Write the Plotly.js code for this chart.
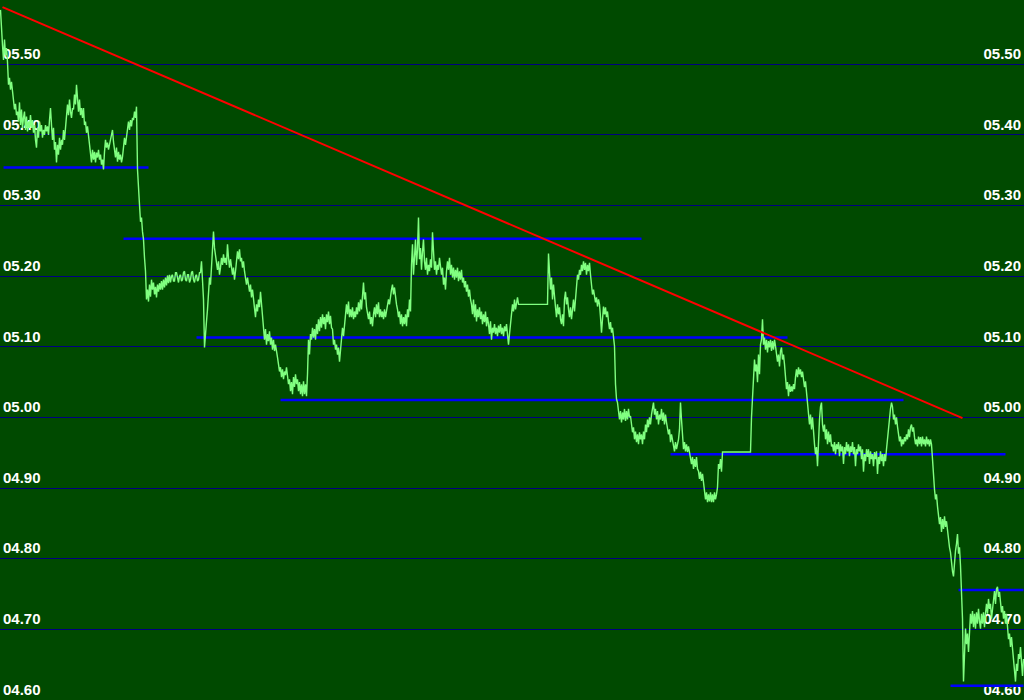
<!DOCTYPE html>
<html>
<head>
<meta charset="utf-8">
<script src="https://cdn.plot.ly/plotly-3.0.1.min.js"></script>
<style>html,body{margin:0;padding:0;background:#004a00;}#chart{width:1024px;height:700px;}</style>
</head>
<body>
<div id="chart"></div>
<script>
// price series, one value per tick (index = tick number)
const prices = [
5.577,5.544,5.527,5.506,5.535,5.513,5.523,5.503,5.471,5.481,
5.464,5.475,5.461,5.453,5.436,5.444,5.428,5.433,5.419,5.446,
5.414,5.436,5.410,5.424,5.433,5.407,5.426,5.405,5.419,5.410,
5.428,5.410,5.421,5.403,5.414,5.393,5.382,5.410,5.396,5.419,
5.405,5.414,5.396,5.407,5.400,5.414,5.405,5.412,5.400,5.421,
5.438,5.414,5.393,5.410,5.379,5.390,5.361,5.386,5.372,5.396,
5.379,5.393,5.386,5.407,5.393,5.410,5.424,5.443,5.428,5.450,
5.433,5.424,5.438,5.436,5.457,5.443,5.471,5.443,5.433,5.450,
5.428,5.438,5.424,5.438,5.414,5.419,5.403,5.412,5.400,5.382,
5.372,5.361,5.379,5.365,5.376,5.361,5.375,5.368,5.379,5.365,
5.372,5.358,5.365,5.351,5.376,5.393,5.382,5.389,5.379,5.386,
5.393,5.400,5.407,5.390,5.379,5.368,5.382,5.362,5.376,5.365,
5.372,5.361,5.369,5.382,5.396,5.386,5.397,5.410,5.419,5.407,
5.421,5.412,5.424,5.421,5.433,5.424,5.440,5.351,5.315,5.301,
5.277,5.283,5.263,5.252,5.226,5.207,5.167,5.181,5.164,5.188,
5.171,5.195,5.181,5.191,5.174,5.185,5.170,5.188,5.178,5.190,
5.181,5.193,5.181,5.195,5.184,5.198,5.187,5.201,5.190,5.202,
5.191,5.200,5.202,5.193,5.193,5.205,5.205,5.195,5.191,5.200,
5.202,5.193,5.195,5.205,5.207,5.195,5.193,5.202,5.202,5.191,
5.195,5.205,5.207,5.195,5.191,5.200,5.202,5.193,5.195,5.205,
5.205,5.221,5.195,5.167,5.099,5.125,5.136,5.153,5.181,5.198,
5.188,5.221,5.238,5.263,5.240,5.231,5.221,5.209,5.221,5.202,
5.212,5.226,5.216,5.231,5.219,5.226,5.216,5.245,5.226,5.212,
5.224,5.209,5.202,5.212,5.195,5.207,5.221,5.235,5.224,5.238,
5.221,5.226,5.212,5.221,5.207,5.198,5.188,5.198,5.184,5.178,
5.188,5.170,5.181,5.167,5.153,5.142,5.160,5.150,5.167,5.156,
5.178,5.160,5.142,5.132,5.110,5.125,5.103,5.118,5.108,5.122,
5.103,5.113,5.096,5.110,5.094,5.103,5.089,5.085,5.075,5.065,
5.071,5.057,5.068,5.054,5.065,5.060,5.071,5.057,5.047,5.054,
5.037,5.050,5.033,5.057,5.043,5.061,5.047,5.054,5.037,5.050,
5.033,5.047,5.030,5.051,5.033,5.047,5.030,5.061,5.110,5.089,
5.118,5.110,5.127,5.113,5.125,5.110,5.132,5.118,5.139,5.122,
5.142,5.127,5.146,5.132,5.142,5.125,5.146,5.135,5.150,5.132,
5.144,5.127,5.125,5.103,5.110,5.096,5.103,5.089,5.099,5.079,
5.094,5.118,5.127,5.115,5.132,5.142,5.160,5.146,5.164,5.142,
5.153,5.142,5.156,5.139,5.150,5.142,5.156,5.146,5.163,5.150,
5.167,5.153,5.174,5.191,5.167,5.177,5.156,5.149,5.139,5.150,
5.132,5.142,5.129,5.146,5.156,5.142,5.160,5.146,5.163,5.142,
5.153,5.142,5.150,5.139,5.153,5.142,5.153,5.160,5.167,5.160,
5.174,5.181,5.188,5.174,5.184,5.167,5.160,5.153,5.142,5.150,
5.132,5.146,5.129,5.142,5.132,5.146,5.129,5.153,5.142,5.167,
5.150,5.216,5.245,5.202,5.231,5.252,5.216,5.238,5.283,5.224,
5.240,5.209,5.235,5.252,5.221,5.209,5.226,5.202,5.216,5.207,
5.224,5.212,5.262,5.226,5.209,5.221,5.202,5.216,5.209,5.226,
5.216,5.202,5.212,5.188,5.198,5.181,5.207,5.221,5.209,5.226,
5.202,5.216,5.198,5.212,5.195,5.209,5.198,5.212,5.193,5.207,
5.195,5.209,5.191,5.198,5.184,5.193,5.178,5.188,5.171,5.181,
5.167,5.160,5.146,5.167,5.142,5.160,5.136,5.153,5.142,5.156,
5.139,5.150,5.132,5.146,5.135,5.150,5.129,5.142,5.132,5.118,
5.136,5.110,5.127,5.120,5.132,5.118,5.127,5.115,5.130,5.120,
5.132,5.118,5.127,5.115,5.129,5.122,5.132,5.113,5.103,5.118,
5.132,5.146,5.160,5.150,5.167,5.153,5.164,5.170,5.160,5.160,
5.160,5.160,5.160,5.160,5.160,5.160,5.160,5.160,5.160,5.160,
5.160,5.160,5.160,5.160,5.160,5.160,5.160,5.160,5.160,5.160,
5.160,5.160,5.160,5.160,5.160,5.160,5.160,5.160,5.232,5.195,
5.181,5.198,5.167,5.188,5.163,5.156,5.142,5.160,5.146,5.156,
5.139,5.132,5.146,5.129,5.167,5.178,5.160,5.170,5.153,5.142,
5.156,5.139,5.153,5.167,5.150,5.171,5.191,5.202,5.195,5.209,
5.202,5.216,5.207,5.221,5.209,5.219,5.202,5.216,5.207,5.219,
5.202,5.185,5.174,5.181,5.170,5.163,5.170,5.157,5.167,5.160,
5.142,5.120,5.139,5.157,5.146,5.156,5.142,5.150,5.136,5.125,
5.135,5.120,5.127,5.110,5.101,5.047,5.026,5.021,5.012,4.997,
5.009,4.993,5.007,4.997,5.012,4.995,5.009,4.997,5.012,5.000,
5.002,4.990,4.979,4.986,4.969,4.980,4.965,4.976,4.962,4.979,
4.969,4.976,4.962,4.980,4.969,4.990,4.979,4.997,4.986,5.000,
4.990,5.004,5.012,5.021,5.004,5.012,4.997,5.009,4.990,5.004,
4.997,5.012,4.995,5.007,4.990,5.004,4.993,4.986,4.976,4.983,
4.965,4.976,4.969,4.962,4.952,4.965,4.955,4.962,4.969,4.983,
5.021,4.997,4.969,4.955,4.965,4.952,4.962,4.951,4.959,4.952,
4.944,4.934,4.944,4.927,4.941,4.930,4.944,4.927,4.924,4.913,
4.923,4.910,4.920,4.908,4.894,4.884,4.894,4.880,4.891,4.881,
4.894,4.880,4.891,4.880,4.894,4.884,4.891,4.901,4.934,4.927,
4.941,4.923,4.951,4.951,4.951,4.951,4.951,4.951,4.951,4.951,
4.951,4.951,4.951,4.951,4.951,4.951,4.951,4.951,4.951,4.951,
4.951,4.951,4.951,4.951,4.951,4.951,4.951,4.951,4.951,4.951,
4.951,5.000,5.030,5.068,5.082,5.065,5.075,5.050,5.089,5.061,
5.103,5.110,5.139,5.103,5.113,5.096,5.110,5.092,5.108,5.099,
5.110,5.094,5.108,5.096,5.110,5.101,5.089,5.079,5.089,5.072,
5.094,5.099,5.082,5.089,5.075,5.061,5.040,5.050,5.030,5.047,
5.036,5.044,5.037,5.047,5.040,5.057,5.068,5.057,5.071,5.061,
5.068,5.057,5.065,5.054,5.043,5.051,5.033,5.026,5.009,4.990,
5.004,4.983,5.000,4.973,4.962,4.948,4.958,4.931,4.969,4.997,
5.015,5.021,4.990,4.980,4.990,4.969,4.983,4.962,4.980,4.965,
4.976,4.959,4.962,4.952,4.965,4.948,4.962,4.955,4.965,4.945,
4.962,4.952,4.959,4.934,4.958,4.948,4.965,4.952,4.962,4.945,
4.959,4.951,4.965,4.948,4.958,4.931,4.955,4.948,4.962,4.952,
4.959,4.941,4.955,4.923,4.948,4.938,4.955,4.944,4.955,4.934,
4.952,4.941,4.948,4.931,4.951,4.941,4.952,4.920,4.944,4.934,
4.952,4.938,4.948,4.931,4.948,4.938,4.955,4.969,4.990,5.000,
5.012,5.021,5.015,4.997,5.004,4.990,5.000,4.987,4.976,4.966,
4.973,4.959,4.969,4.962,4.972,4.966,4.976,4.969,4.983,4.972,
4.986,4.990,4.980,4.986,4.972,4.962,4.969,4.959,4.973,4.962,
4.972,4.959,4.973,4.962,4.969,4.959,4.973,4.962,4.969,4.959,
4.969,4.962,4.941,4.908,4.898,4.884,4.891,4.874,4.863,4.849,
4.859,4.838,4.856,4.842,4.860,4.845,4.853,4.838,4.828,4.816,
4.809,4.792,4.782,4.775,4.800,4.811,4.821,4.835,4.807,4.816,
4.790,4.761,4.715,4.626,4.672,4.701,4.679,4.694,4.668,4.701,
4.722,4.708,4.726,4.703,4.722,4.701,4.724,4.708,4.729,4.712,
4.701,4.722,4.708,4.724,4.703,4.722,4.736,4.722,4.743,4.729,
4.736,4.715,4.732,4.743,4.754,4.736,4.757,4.760,4.746,4.753,
4.736,4.724,4.733,4.715,4.726,4.708,4.722,4.701,4.686,4.694,
4.675,4.689,4.672,4.665,4.644,4.626,4.651,4.641,4.665,4.658,
4.675,4.647,4.634,4.658
];

// horizontal support / resistance levels
const supportLevel = [5.354, 5.253, 5.113, 5.0245, 4.948, 4.7555, 4.620];
const supportStart = [3, 123, 196, 280, 670, 958, 950];
const supportEnd   = [148, 641, 787, 903, 1005, 1023, 1023];

// descending trend line
const trendTicks  = [2, 962];
const trendPrices = [5.581, 4.999];

// price grid / tick labels
const gridValues = [4.60, 4.70, 4.80, 4.90, 5.00, 5.10, 5.20, 5.30, 5.40, 5.50];
const gridLabels = ["04.60","04.70","04.80","04.90","05.00","05.10","05.20","05.30","05.40","05.50"];

const ticks = prices.map((_, i) => i);

const traces = [];
supportLevel.forEach((lvl, i) => {
  traces.push({
    type: 'scatter', mode: 'lines',
    x: [supportStart[i], supportEnd[i]], y: [lvl, lvl],
    line: {color: '#0000ff', width: 2.5},
    hoverinfo: 'skip', showlegend: false
  });
});
traces.push({
  type: 'scatter', mode: 'lines',
  x: ticks, y: prices,
  line: {color: '#80ff80', width: 1.4},
  hoverinfo: 'skip', showlegend: false
});
traces.push({
  type: 'scatter', mode: 'lines',
  x: trendTicks, y: trendPrices, yaxis: 'y2',
  line: {color: '#ff0000', width: 2},
  hoverinfo: 'skip', showlegend: false
});

const yRange = [4.5999, 5.591];
const tickFont = {family: 'Liberation Sans, Arial, sans-serif', size: 15, color: '#ffffff', weight: 'bold'};

const layout = {
  width: 1024, height: 700,
  margin: {l: 0, r: 0, t: 0, b: 0, pad: 0},
  paper_bgcolor: '#004a00',
  plot_bgcolor: '#004a00',
  showlegend: false,
  xaxis: {range: [-0.5, 1023.5], visible: false, showgrid: false, zeroline: false, fixedrange: true},
  yaxis: {
    range: yRange, side: 'left',
    tickmode: 'array', tickvals: gridValues, ticktext: gridLabels,
    ticklabelposition: 'inside top', ticks: '',
    showgrid: true, gridcolor: '#000080', gridwidth: 1,
    zeroline: false, showline: false,
    tickfont: tickFont, layer: 'below traces', fixedrange: true
  },
  yaxis2: {
    range: yRange, side: 'right', overlaying: 'y',
    tickmode: 'array', tickvals: gridValues, ticktext: gridLabels,
    ticklabelposition: 'inside top', ticks: '',
    showgrid: false, zeroline: false, showline: false,
    tickfont: tickFont, layer: 'below traces', fixedrange: true
  }
};

Plotly.newPlot('chart', traces, layout, {staticPlot: true, displayModeBar: false});
</script>
</body>
</html>
